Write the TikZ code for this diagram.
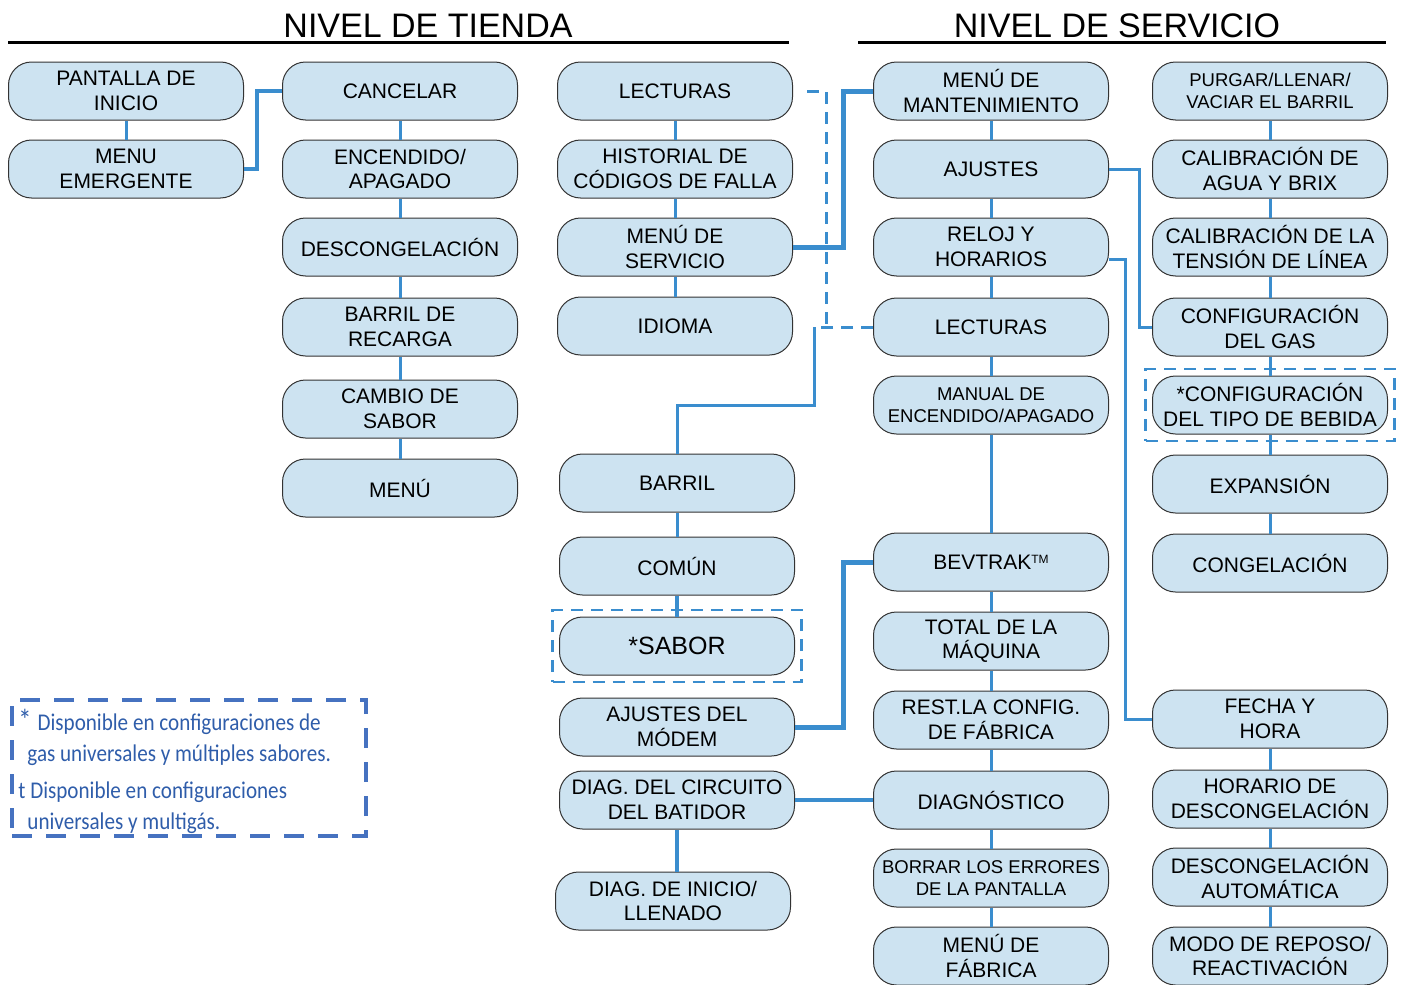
\documentclass[tikz,border=0pt]{standalone}
\usepackage{fontspec}
\setmainfont{Liberation Sans}
\newfontfamily\notafont[FakeStretch=0.88]{Carlito}
\usetikzlibrary{positioning,calc,fit}
\definecolor{relleno}{RGB}{205,227,241}
\definecolor{azul}{RGB}{58,141,206}
\definecolor{azulnota}{RGB}{70,114,192}
\definecolor{textonota}{RGB}{47,93,170}

\begin{document}
\begin{tikzpicture}[
      x=1pt, y=-1pt,
      caja/.style={
        draw=black!80,
        line width=1pt,
        fill=relleno,
        rounded corners=23pt,
        minimum width=235pt,
        minimum height=58pt,
        inner sep=0pt,
        align=center,
        font=\fontsize{21}{24.5}\selectfont
      },
      chica/.style={
        font=\fontsize{18.5}{22}\selectfont
      },
      titulo/.style={
        anchor=base,
        font=\fontsize{34}{40}\selectfont
      },
      raya/.style={
        line width=3pt
      },
      enlace/.style={
        draw=azul,
        line width=3pt
      },
      grueso/.style={
        enlace,
        line width=5pt
      },
      marco/.style={
        draw=azul,
        line width=2.5pt,
        dash pattern=on 12pt off 8pt,
        inner sep=6.5pt
      },
      marconota/.style={
        draw=azulnota,
        line width=3.5pt,
        dash pattern=on 20pt off 14pt,
        minimum width=354pt,
        minimum height=136pt
      },
      nota/.style={
        text=textonota,
        align=left,
        inner sep=0pt,
        font=\notafont\fontsize{24}{31}\selectfont
      }
    ]
    \useasboundingbox (0,0) rectangle (1401,985);

    \node[titulo] (tienda) at (428,37) {NIVEL DE TIENDA};
    \node[titulo] (servicio) at (1117,37) {NIVEL DE SERVICIO};
    \draw[raya] (8,42) -- (789,42);
    \draw[raya] (858,42) -- (1386,42);

    \node[caja] (pantalla) at (126,91) {PANTALLA DE\\INICIO};
    \node[caja] (emergente) at (126,169) {MENU\\EMERGENTE};

    \node[caja] (cancelar) at (400,91) {CANCELAR};
    \node[caja] (encendido) at (400,169) {ENCENDIDO/\\APAGADO};
    \node[caja] (descong) at (400,247) {DESCONGELACIÓN};
    \node[caja] (recarga) at (400,327) {BARRIL DE\\RECARGA};
    \node[caja] (cambio) at (400,409) {CAMBIO DE\\SABOR};
    \node[caja] (menu) at (400,488) {MENÚ};

    \node[caja] (lect3) at (675,91) {LECTURAS};
    \node[caja] (historial) at (675,169) {HISTORIAL DE\\CÓDIGOS DE FALLA};
    \node[caja] (msvc) at (675,247) {MENÚ DE\\SERVICIO};
    \node[caja] (idioma) at (675,326) {IDIOMA};

    \node[caja] (barril) at (677,483) {BARRIL};
    \node[caja] (comun) at (677,566) {COMÚN};
    \node[caja, font=\fontsize{25}{30}\selectfont] (sabor) at (677,646) {*SABOR};
    \node[caja] (modem) at (677,727) {AJUSTES DEL\\MÓDEM};
    \node[caja] (circuito) at (677,800) {DIAG. DEL CIRCUITO\\DEL BATIDOR};
    \node[caja] (inicio) at (673,901) {DIAG. DE INICIO/\\LLENADO};

    \node[caja] (mant) at (991,91) {MENÚ DE\\MANTENIMIENTO};
    \node[caja] (ajustes) at (991,169) {AJUSTES};
    \node[caja] (reloj) at (991,247) {RELOJ Y\\HORARIOS};
    \node[caja] (lect4) at (991,327) {LECTURAS};
    \node[caja, chica] (manual) at (991,405) {MANUAL DE\\ENCENDIDO/APAGADO};
    \node[caja] (bevtrak) at (991,562) {BEVTRAK\raisebox{0.55ex}{\fontsize{12}{12}\selectfont TM}};
    \node[caja] (total) at (991,641) {TOTAL DE LA\\MÁQUINA};
    \node[caja] (rest) at (991,720) {REST.LA CONFIG.\\DE FÁBRICA};
    \node[caja] (diag) at (991,800) {DIAGNÓSTICO};
    \node[caja, chica] (borrar) at (991,878) {BORRAR LOS ERRORES\\DE LA PANTALLA};
    \node[caja] (fabrica) at (991,956) {MENÚ DE\\FÁBRICA};

    \node[caja, chica] (purgar) at (1270,91) {PURGAR/LLENAR/\\VACIAR EL BARRIL};
    \node[caja] (agua) at (1270,169) {CALIBRACIÓN DE\\AGUA Y BRIX};
    \node[caja] (tension) at (1270,247) {CALIBRACIÓN DE LA\\TENSIÓN DE LÍNEA};
    \node[caja] (gas) at (1270,327) {CONFIGURACIÓN\\DEL GAS};
    \node[caja] (tipo) at (1270,405) {*CONFIGURACIÓN\\DEL TIPO DE BEBIDA};
    \node[caja] (expansion) at (1270,484) {EXPANSIÓN};
    \node[caja] (congelacion) at (1270,563) {CONGELACIÓN};
    \node[caja] (fecha) at (1270,719) {FECHA Y\\HORA};
    \node[caja] (horario) at (1270,799) {HORARIO DE\\DESCONGELACIÓN};
    \node[caja] (automatica) at (1270,877) {DESCONGELACIÓN\\AUTOMÁTICA};
    \node[caja] (reposo) at (1270,956) {MODO DE REPOSO/\\REACTIVACIÓN};

    \node[marco, fit=(sabor)] (marcosabor) {};
    \node[marco, fit=(tipo)] (marcotipo) {};

    \node[marconota] (cuadro) at (189,768) {};
    \node[nota, below right=11pt and 8pt of cuadro.north west] (notatexto)
      {{\fontsize{30}{31}\selectfont*}\hspace{6pt}Disponible en configuraciones de\\
       \hspace*{9pt}gas universales y múltiples sabores.\\[6pt]
       t Disponible en configuraciones\\
       \hspace*{9pt}universales y multigás.};

    \coordinate (quiebre) at (814,327);

    \draw[enlace] (pantalla) -- (emergente);
    \draw[grueso, line width=4pt] (emergente.east) -- ++(13,0) |- (cancelar.west);
    \draw[enlace] (cancelar) -- (encendido) (encendido) -- (descong)
      (descong) -- (recarga) (recarga) -- (cambio) (cambio) -- (menu);
    \draw[enlace] (lect3) -- (historial) (historial) -- (msvc) (msvc) -- (idioma);
    \draw[grueso] (msvc.east) -- ++(50,0) |- (mant.west);
    \draw[enlace, dash pattern=on 12pt off 8pt] ($(lect3.east)+(14,0)$) -| (826,325);
    \draw[enlace, dash pattern=on 12pt off 8pt] (lect4.west) -- (quiebre);
    \draw[enlace] (quiebre) -- ++(0,78) -| (barril.north);
    \draw[enlace] (barril) -- (comun);
    \draw[grueso, line width=4pt] (comun) -- (sabor);
    \draw[grueso] (modem.east) -- ++(48,0) |- (bevtrak.west);
    \draw[grueso, line width=4pt] (circuito) -- (diag);
    \draw[grueso, line width=4pt] (circuito.south) -- (circuito.south |- inicio.north);
    \draw[enlace] (mant) -- (ajustes) (ajustes) -- (reloj) (reloj) -- (lect4)
      (lect4) -- (manual) (manual) -- (bevtrak) (bevtrak) -- (total)
      (total) -- (rest) (rest) -- (diag) (diag) -- (borrar) (borrar) -- (fabrica);
    \draw[enlace] (ajustes.east) -- ++(30,0) |- (gas.west);
    \draw[enlace] ($(reloj.east)+(0,12)$) -- ++(16,0) |- (fecha.west);
    \draw[enlace] (purgar) -- (agua) (agua) -- (tension) (tension) -- (gas)
      (gas) -- (tipo) (tipo) -- (expansion) (expansion) -- (congelacion);
    \draw[enlace] (fecha) -- (horario) (horario) -- (automatica) (automatica) -- (reposo);
  \end{tikzpicture}
\end{document}
